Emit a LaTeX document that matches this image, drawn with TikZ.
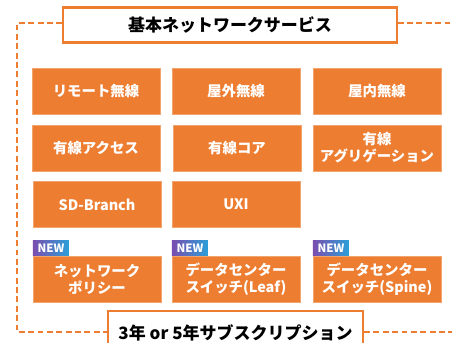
\documentclass[tikz,border=0pt]{standalone}
\usepackage{fontspec}
\setmainfont{Noto Sans CJK JP}
\usepackage{xcolor}
\definecolor{svcorange}{HTML}{ED7D31}
\definecolor{newpurple}{HTML}{7A4DAF}
\definecolor{newblue}{HTML}{2C9FD8}
\usetikzlibrary{positioning}
\tikzset{
  svcbox/.style={fill=svcorange, draw=svcorange!70!white, line width=0.6pt,
    minimum width=3.84cm, minimum height=1.38cm, inner sep=0pt,
    align=center, text=white, font=\bfseries\fontsize{12.3}{14.5}\selectfont},
  newbadge/.style={left color=newpurple, right color=newblue, draw=none,
    minimum width=1.08cm, minimum height=0.45cm, inner sep=0pt,
    text=white, font=\bfseries\fontsize{9.8}{10}\selectfont},
  framebox/.style={draw=svcorange, line width=1.8pt, fill=white,
    text=black, font=\bfseries\fontsize{14.5}{16}\selectfont}
}

\begin{document}
\begin{tikzpicture}[x=0.03cm,y=-0.03cm]
    \clip (0,0) rectangle (452,343);
    \fill[white] (0,0) rectangle (452,343);
    %
    \node[framebox, minimum width=10.0cm, minimum height=1.05cm] (title) at (230,25) {基本ネットワークサービス};
    \node[framebox, minimum width=7.65cm, minimum height=1.32cm] (term) at (235.5,333) {3年 or 5年サブスクリプション};
    %
    \draw[svcorange, line width=1.2pt, dash pattern=on 5pt off 3pt]
      (title.west |- 0,23) -- (17,23) -- (17,332) -- (term.west |- 0,332);
    \draw[svcorange, line width=1.2pt, dash pattern=on 5pt off 3pt]
      (title.east |- 0,23) -- (452,23);
    \draw[svcorange, line width=1.2pt, dash pattern=on 5pt off 3pt]
      (term.east |- 0,332) -- (452,332);
    %
    \node[svcbox] (remote) at (96,91) {リモート無線};
    \node[svcbox] (outdoor) at (236,91) {屋外無線};
    \node[svcbox] (indoor) at (377,91) {屋内無線};
    %
    \node[svcbox] (access) at (96,148) {有線アクセス};
    \node[svcbox] (core) at (237,148) {有線コア};
    \node[svcbox] (aggr) at (377,148) {有線\\アグリゲーション};
    %
    \node[svcbox] (sdbr) at (97,204.5) {SD-Branch};
    \node[svcbox] (uxi) at (236,204.5) {UXI};
    %
    \node[svcbox] (policy) at (97,279) {ネットワーク\\ポリシー};
    \node[svcbox] (leaf) at (236,279) {データセンター\\スイッチ(Leaf)};
    \node[svcbox] (spine) at (377,279) {データセンター\\スイッチ(Spine)};
    %
    \node[newbadge, anchor=south west] (newpolicy) at (policy.north west) {NEW};
    \node[newbadge, anchor=south west] (newleaf) at (leaf.north west) {NEW};
    \node[newbadge, anchor=south west] (newspine) at (spine.north west) {NEW};
\end{tikzpicture}
\end{document}
